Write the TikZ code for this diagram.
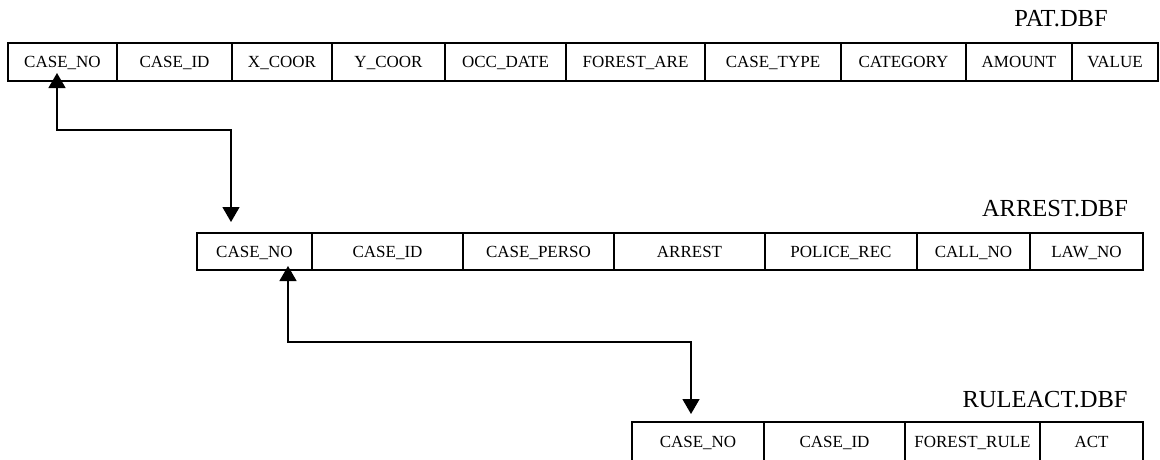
\documentclass[tikz,border=0pt]{standalone}
\usepackage{fontspec}
\setmainfont{Liberation Serif}
\usetikzlibrary{arrows.meta}
\begin{document}
\begin{tikzpicture}[x=1pt,y=-1pt,
  cell/.style={draw=black, line width=2pt, inner sep=0pt, text height=11.25pt, text depth=0pt,
    font=\fontsize{17}{20}\selectfont},
  tlabel/.style={inner sep=0pt, font=\fontsize{24.5}{28}\selectfont},
  bi/.style={line width=1.4pt, {Triangle[width=17pt,length=15pt]}-{Triangle[width=17pt,length=15pt]}}]
\useasboundingbox (0,0) rectangle (1160,459);
\clip (0,0) rectangle (1160,459);
\fill[white] (0,0) rectangle (1160,459);
% PAT.DBF
\node[tlabel] (patlbl) at (1061,18.5) {PAT.DBF};
\begin{scope}[every node/.style={cell, minimum height=38pt}]
\node[minimum width=109pt] (pA1) at (62.5,62) {CASE\_NO};
\node[minimum width=115pt] (pA2) at (174.5,62) {CASE\_ID};
\node[minimum width=100pt] (pA3) at (282,62) {X\_COOR};
\node[minimum width=113pt] (pA4) at (388.5,62) {Y\_COOR};
\node[minimum width=121pt] (pA5) at (505.5,62) {OCC\_DATE};
\node[minimum width=139pt] (pA6) at (635.5,62) {FOREST\_ARE};
\node[minimum width=136pt] (pA7) at (773,62) {CASE\_TYPE};
\node[minimum width=125pt] (pA8) at (903.5,62) {CATEGORY};
\node[minimum width=106pt] (pA9) at (1019,62) {AMOUNT};
\node[minimum width=86pt] (pA10) at (1115,62) {VALUE};
\end{scope}
% ARREST.DBF
\node[tlabel] (arrlbl) at (1055,208.5) {ARREST.DBF};
\begin{scope}[every node/.style={cell, minimum height=37pt}]
\node[minimum width=115pt] (aA1) at (254.5,251.5) {CASE\_NO};
\node[minimum width=151pt] (aA2) at (387.5,251.5) {CASE\_ID};
\node[minimum width=151pt] (aA3) at (538.5,251.5) {CASE\_PERSO};
\node[minimum width=151pt] (aA4) at (689.5,251.5) {ARREST};
\node[minimum width=152pt] (aA5) at (841,251.5) {POLICE\_REC};
\node[minimum width=113pt] (aA6) at (973.5,251.5) {CALL\_NO};
\node[minimum width=113pt] (aA7) at (1086.5,251.5) {LAW\_NO};
\end{scope}
% RULEACT.DBF
\node[tlabel] (rullbl) at (1045,400) {RULEACT.DBF};
\begin{scope}[every node/.style={cell, minimum height=40pt}]
\node[minimum width=132pt] (rA1) at (698,442) {CASE\_NO};
\node[minimum width=141pt] (rA2) at (834.5,442) {CASE\_ID};
\node[minimum width=135pt] (rA3) at (972.5,442) {FOREST\_RULE};
\node[minimum width=103pt] (rA4) at (1091.5,442) {ACT};
\end{scope}
% connectors
\coordinate (c1s) at ([xshift=-5.5pt,yshift=9pt]pA1.south);
\coordinate (c1e) at ([xshift=-23.5pt,yshift=10pt]aA1.north);
\draw[bi] (c1s) -- ++(0,57) -| (c1e);
\coordinate (c2s) at ([xshift=33.5pt,yshift=5pt]aA1.south);
\coordinate (c2e) at ([xshift=-7pt,yshift=7pt]rA1.north);
\draw[bi] (c2s) -- ++(0,76) -| (c2e);
\end{tikzpicture}
\end{document}
